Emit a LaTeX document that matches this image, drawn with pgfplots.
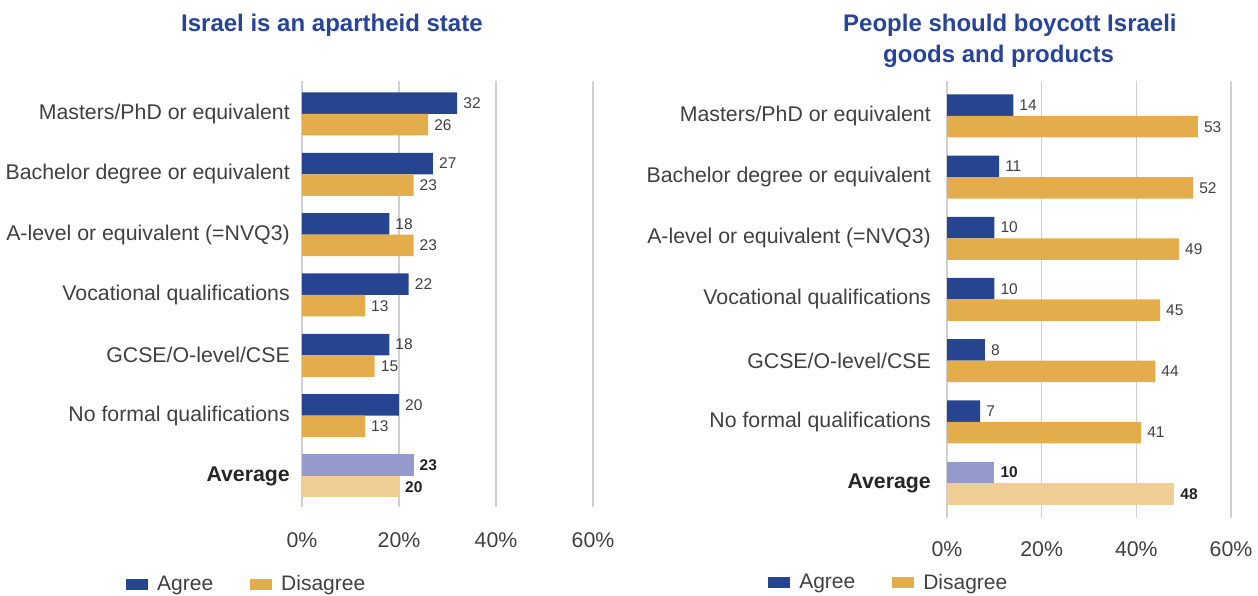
\documentclass[border=0pt]{standalone}
\usepackage{fontspec}
\setmainfont{Liberation Sans}
\usepackage{pgfplots}
\pgfplotsset{compat=1.18}
\definecolor{agree}{HTML}{26448F}
\definecolor{disagree}{HTML}{E2AD4A}
\definecolor{agreeL}{HTML}{959ACC}
\definecolor{disagreeL}{HTML}{EFCE96}
\definecolor{titleblue}{HTML}{27449A}
\definecolor{txt}{HTML}{404040}
\definecolor{gridc}{HTML}{D0D0D0}

\pgfplotsset{mybars/.style={
  xbar, scale only axis, clip=false,
  /pgf/number format/assume math mode=true,
  xmin=0, xmax=60,
  axis line style={draw=none}, major tick length=0pt,
  xtick={0,20,40,60}, xticklabels={0\%,20\%,40\%,60\%},
  ytick={0,1,2,3,4,5,6},
  yticklabels={{\color{black!85}\textbf{Average}}, No formal qualifications, GCSE/O-level/CSE, Vocational qualifications, A-level or equivalent (=NVQ3), Bachelor degree or equivalent, Masters/PhD or equivalent},
  xmajorgrids, grid style={gridc, line width=1.5pt},
  bar width=21.5pt,
  tick label style={font=\fontsize{21.3}{25}\selectfont, text=txt},
  yticklabel style={anchor=east, inner sep=0pt},
  nodes near coords={\pgfmathprintnumber[assume math mode=true]{\pgfplotspointmeta}},
  nodes near coords style={anchor=west, inner sep=0pt, xshift=6pt, font=\fontsize{15.5}{18}\selectfont, text=txt},
  legend columns=2,
  legend image code/.code={\draw[#1,draw=none] (0pt,-5.5pt) rectangle (22pt,5.5pt);},
  legend style={draw=none, fill=none, inner sep=0pt, font=\fontsize{21}{25}\selectfont, text=txt,
    nodes={inner sep=0pt},
    /tikz/every odd column/.append style={column sep=9pt},
    /tikz/every even column/.append style={column sep=37pt}},
  avg/.style={forget plot, nodes near coords style={font=\fontsize{15.5}{18}\selectfont\bfseries, text=black!87}},
}}

\begin{document}
\begin{tikzpicture}
\useasboundingbox (0,0) rectangle (1258pt,596pt);

\node[anchor=base west, font=\fontsize{24}{28}\selectfont\bfseries, text=titleblue, inner sep=0pt] at (181pt,564pt) {Israel is an apartheid state};
\node[anchor=base west, font=\fontsize{24}{28}\selectfont\bfseries, text=titleblue, inner sep=0pt] at (843pt,564pt) {People should boycott Israeli};
\node[anchor=base west, font=\fontsize{24}{28}\selectfont\bfseries, text=titleblue, inner sep=0pt] at (883pt,533pt) {goods and products};

\begin{axis}[mybars,
  at={(302pt,89pt)}, anchor=south west,
  width=291pt, height=426pt,
  ymin=-0.514, ymax=6.547,
  xticklabel style={inner sep=0pt, yshift=-25pt},
  yticklabel style={xshift=-12pt},
  legend style={at={(-0.6048,-0.1808)}, anchor=west}]
\addplot[fill=agree, draw=none, bar shift=10.75pt] coordinates {(32,6) (27,5) (18,4) (22,3) (18,2) (20,1)};
\addlegendentry{Agree}
\addplot[fill=disagree, draw=none, bar shift=-10.75pt] coordinates {(26,6) (23,5) (23,4) (13,3) (15,2) (13,1)};
\addlegendentry{Disagree}
\addplot[fill=agreeL, draw=none, bar shift=10.75pt, avg] coordinates {(23,0)};
\addplot[fill=disagreeL, draw=none, bar shift=-10.75pt, avg] coordinates {(20,0)};
\end{axis}

\begin{axis}[mybars,
  at={(947pt,78pt)}, anchor=south west,
  width=284pt, height=437pt,
  ymin=-0.572, ymax=6.572,
  xticklabel style={inner sep=0pt, yshift=-23pt},
  yticklabel style={xshift=-16pt},
  legend style={at={(-0.630,-0.1476)}, anchor=west}]
\addplot[fill=agree, draw=none, bar shift=10.75pt] coordinates {(14,6) (11,5) (10,4) (10,3) (8,2) (7,1)};
\addlegendentry{Agree}
\addplot[fill=disagree, draw=none, bar shift=-10.75pt] coordinates {(53,6) (52,5) (49,4) (45,3) (44,2) (41,1)};
\addlegendentry{Disagree}
\addplot[fill=agreeL, draw=none, bar shift=10.75pt, avg] coordinates {(10,0)};
\addplot[fill=disagreeL, draw=none, bar shift=-10.75pt, avg] coordinates {(48,0)};
\end{axis}
\end{tikzpicture}
\end{document}
